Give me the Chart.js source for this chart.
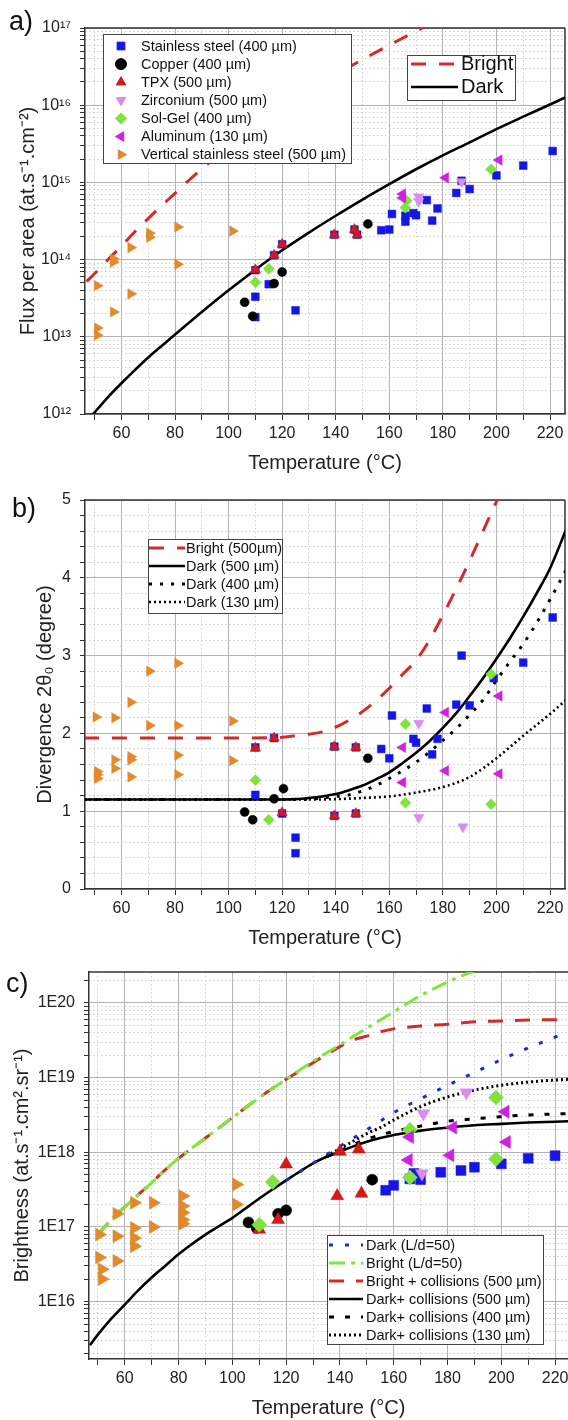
<!DOCTYPE html>
<html>
<head>
<meta charset="utf-8">
<title>Flux, divergence and brightness vs temperature</title>
<script src="https://cdn.jsdelivr.net/npm/chart.js@4.4.1/dist/chart.umd.min.js"></script>
<style>
  html, body { margin: 0; padding: 0; background: #fff; }
  body { position: relative; width: 568px; height: 1420px; overflow: hidden; }
  canvas { position: absolute; left: 0; }
  #fluxChart { top: 0; }
  #divChart { top: 475px; }
  #briChart { top: 950px; }
</style>
</head>
<body>
<canvas id="fluxChart" width="568" height="475"></canvas>
<canvas id="divChart" width="568" height="475"></canvas>
<canvas id="briChart" width="568" height="470"></canvas>
<script>
// ---- shared ticks ----
var tempTicks = [50, 60, 70, 80, 90, 100, 110, 120, 130, 140, 150, 160, 170, 180, 190, 200, 210, 220];
var tempMinorGrid = [50, 70, 90, 110, 130, 150, 170, 190, 210];
var fluxDecades = [1e12, 1e13, 1e14, 1e15, 1e16, 1e17];
var divMajor = [0, 1, 2, 3, 4, 5];
var divMinor = [0.2, 0.4, 0.6, 0.8, 1.2, 1.4, 1.6, 1.8, 2.2, 2.4, 2.6, 2.8, 3.2, 3.4, 3.6, 3.8, 4.2, 4.4, 4.6, 4.8];
var briDecades = [1e15, 1e16, 1e17, 1e18, 1e19, 1e20];

// ---- a) flux per area ----
var fluxSteelT = [110, 110, 110, 115, 117, 120, 125, 139.5, 147, 148, 157, 160, 161, 166, 166, 169, 170, 174, 176, 178, 185, 187, 190, 200, 210, 221];
var fluxSteel = [3.3e13, 1.8e13, 7.3e13, 4.8e13, 1.14e14, 1.58e14, 2.2e13, 2.1e14, 2.45e14, 2.1e14, 2.4e14, 2.45e14, 3.9e14, 3.7e14, 3.1e14, 4.0e14, 3.75e14, 5.9e14, 3.2e14, 4.6e14, 7.3e14, 1.05e15, 8.2e14, 1.23e15, 1.65e15, 2.55e15];
var fluxCopperT = [106, 109, 117, 120, 152];
var fluxCopper = [2.8e13, 1.85e13, 4.9e13, 6.9e13, 2.9e14];
var fluxTpxT = [110, 117, 120, 139.5, 147, 148];
var fluxTpx = [7.4e13, 1.14e14, 1.58e14, 2.1e14, 2.45e14, 2.1e14];
var fluxZrT = [171, 171, 187];
var fluxZr = [6.5e14, 5.7e14, 1.02e15];
var fluxSolGelT = [110, 115, 166, 166.5, 198];
var fluxSolGel = [5.1e13, 7.6e13, 4.7e14, 5.8e14, 1.48e15];
var fluxAlT = [165, 165, 181, 201];
var fluxAl = [7.1e14, 6.3e14, 1.15e15, 1.95e15];
var fluxVertT = [51, 51, 51, 57, 57, 57, 63.5, 63.5, 70.5, 70.5, 81, 81, 101.5];
var fluxVert = [4.6e13, 1.3e13, 1.05e13, 9.3e13, 1.02e14, 2.1e13, 1.43e14, 3.6e13, 2.2e14, 1.95e14, 2.65e14, 8.7e13, 2.35e14];
var fluxBrightT = [47, 50, 55, 60, 65, 70, 75, 80, 85, 90, 100, 110, 120, 130, 140, 150, 160, 170, 175];
var fluxBright = [5.2e13, 6.6e13, 1.0e14, 1.5e14, 2.3e14, 3.4e14, 5.0e14, 7.2e14, 1.05e15, 1.5e15, 2.9e15, 5.4e15, 9.5e15, 1.6e16, 2.5e16, 3.9e16, 6.0e16, 9.1e16, 1.12e17];
var fluxDarkT = [47, 50, 55, 60, 65, 70, 75, 80, 90, 100, 110, 120, 130, 140, 150, 160, 170, 180, 190, 200, 210, 220, 227];
var fluxDark = [7.9e11, 1.05e12, 1.66e12, 2.5e12, 3.7e12, 5.4e12, 7.6e12, 1.07e13, 2.1e13, 4.0e13, 7.4e13, 1.32e14, 2.24e14, 3.7e14, 6.0e14, 9.5e14, 1.48e15, 2.24e15, 3.3e15, 4.9e15, 7.1e15, 1.02e16, 1.32e16];

// ---- b) divergence ----
var divSteelT = [110, 110, 117, 120, 125, 125, 139.5, 139.5, 147.5, 147.5, 157, 160, 161, 169, 170, 174, 176, 178, 185, 187, 190, 199, 210, 221];
var divSteel = [1.21, 1.82, 1.94, 0.97, 0.66, 0.46, 0.94, 1.83, 0.97, 1.82, 1.80, 1.68, 2.23, 1.93, 1.88, 2.32, 1.73, 1.93, 2.37, 3.0, 2.36, 2.71, 2.91, 3.49];
var divCopperT = [106, 109, 117, 120.5, 152];
var divCopper = [0.99, 0.89, 1.16, 1.29, 1.68];
var divTpxT = [110, 117, 120, 139.5, 139.5, 147.5, 147.5];
var divTpx = [1.81, 1.94, 0.98, 0.94, 1.83, 0.97, 1.82];
var divZrT = [171, 171, 187.5];
var divZr = [2.13, 0.92, 0.80];
var divSolGelT = [110, 115, 166, 166, 198, 198];
var divSolGel = [1.40, 0.89, 2.12, 1.11, 1.09, 2.76];
var divAlT = [165, 165, 181, 181, 201, 201];
var divAl = [1.82, 1.37, 2.27, 1.52, 2.48, 1.48];
var divVertT = [50.5, 51, 51, 51, 57.5, 57.5, 57.5, 63.5, 63.5, 63.5, 63.5, 70.5, 70.5, 81, 81, 81, 81, 101.5, 101.5];
var divVert = [2.21, 1.51, 1.47, 1.42, 2.20, 1.66, 1.55, 2.40, 1.70, 1.66, 1.44, 2.80, 2.10, 2.90, 2.10, 1.72, 1.47, 2.16, 1.65];
var divBrightT = [46, 100, 120, 125, 130, 135, 140, 145, 150, 155, 160, 165, 170, 175, 180, 185, 190, 195, 200, 203];
var divBright = [1.94, 1.94, 1.95, 1.97, 1.99, 2.02, 2.08, 2.17, 2.28, 2.42, 2.58, 2.76, 2.94, 3.2, 3.52, 3.86, 4.22, 4.6, 4.98, 5.2];
var divDark500T = [46, 120, 125, 130, 135, 140, 145, 150, 155, 160, 165, 170, 175, 180, 185, 190, 195, 200, 205, 210, 215, 220, 226];
var divDark500 = [1.15, 1.15, 1.155, 1.17, 1.19, 1.22, 1.27, 1.33, 1.41, 1.50, 1.62, 1.75, 1.90, 2.07, 2.26, 2.48, 2.71, 2.96, 3.22, 3.50, 3.80, 4.12, 4.62];
var divDark400T = [46, 125, 130, 135, 140, 145, 150, 155, 160, 165, 170, 175, 180, 185, 190, 195, 200, 205, 210, 215, 220, 226];
var divDark400 = [1.15, 1.15, 1.155, 1.17, 1.19, 1.21, 1.26, 1.33, 1.42, 1.52, 1.63, 1.76, 1.91, 2.06, 2.24, 2.43, 2.68, 2.92, 3.15, 3.42, 3.72, 4.1];
var divDark130T = [46, 130, 140, 150, 160, 170, 180, 190, 200, 210, 220, 226];
var divDark130 = [1.15, 1.15, 1.155, 1.17, 1.19, 1.24, 1.31, 1.44, 1.68, 1.97, 2.25, 2.43];

// ---- c) brightness ----
var briSteelT = [157, 160, 166, 167.5, 170, 177.5, 185, 190, 200, 210, 220];
var briSteel = [3.1e17, 3.6e17, 4.4e17, 5.2e17, 4.3e17, 5.4e17, 5.7e17, 6.3e17, 7.0e17, 8.3e17, 9.0e17];
var briCopperT = [106, 109, 117, 120, 152];
var briCopper = [1.15e17, 0.97e17, 1.5e17, 1.67e17, 4.3e17];
var briTpxT = [110, 117, 120, 139, 140, 147, 148];
var briTpx = [9.2e16, 1.25e17, 6.9e17, 2.6e17, 1.02e18, 1.1e18, 2.8e17];
var briZrT = [170.5, 171, 187];
var briZr = [5.2e17, 3.3e18, 6.3e18];
var briSolGelT = [110, 115, 166, 166, 198, 198];
var briSolGel = [1.07e17, 4.0e17, 2.0e18, 4.6e17, 5.4e18, 8.1e17];
var briAlT = [165.5, 166, 181, 182, 201.5, 202];
var briAl = [7.9e17, 1.6e18, 9.1e17, 2.15e18, 3.5e18, 1.37e18];
var briVertT = [50.5, 50.5, 51.5, 51.5, 57, 57, 57, 63.5, 63.5, 63.5, 63.5, 70.5, 70.5, 81.5, 81.5, 81.5, 81.5, 81.5, 101.5, 101.5];
var briVert = [7.9e16, 3.9e16, 2.7e16, 2.0e16, 1.5e17, 7.5e16, 3.5e16, 2.1e17, 9.7e16, 7.1e16, 5.5e16, 2.1e17, 1.0e17, 2.6e17, 1.9e17, 1.55e17, 1.25e17, 1.1e17, 3.7e17, 2.0e17];
var briDarkLdT = [120, 130, 135, 140, 145, 150, 155, 160, 170, 180, 190, 200, 210, 220, 225];
var briDarkLd = [4.2e17, 7.1e17, 9.3e17, 1.2e18, 1.55e18, 2.0e18, 2.6e18, 3.4e18, 5.2e18, 7.9e18, 1.17e19, 1.74e19, 2.5e19, 3.5e19, 4.2e19];
var briBrightLdT = [50, 55, 60, 65, 70, 75, 80, 90, 100, 110, 120, 130, 140, 150, 160, 170, 180, 190, 194];
var briBrightLd = [7.9e16, 1.26e17, 1.86e17, 2.7e17, 3.9e17, 5.8e17, 8.3e17, 1.55e18, 2.9e18, 5.4e18, 9.5e18, 1.66e19, 2.75e19, 4.6e19, 7.6e19, 1.26e20, 1.9e20, 2.7e20, 3.0e20];
var briBrightCollT = [50, 55, 60, 65, 70, 75, 80, 90, 100, 110, 120, 130, 135, 140, 145, 150, 155, 160, 170, 180, 190, 200, 210, 225];
var briBrightColl = [7.9e16, 1.26e17, 1.86e17, 2.7e17, 3.9e17, 5.8e17, 8.3e17, 1.55e18, 2.9e18, 5.4e18, 9.5e18, 1.58e19, 2.04e19, 2.6e19, 3.2e19, 3.6e19, 4.1e19, 4.5e19, 4.9e19, 5.2e19, 5.6e19, 5.75e19, 5.9e19, 6.0e19];
var briDark500T = [47, 50, 55, 60, 65, 70, 75, 80, 85, 90, 95, 100, 105, 110, 115, 120, 125, 130, 135, 140, 145, 150, 155, 160, 170, 180, 190, 200, 210, 225];
var briDark500 = [2.6e15, 3.6e15, 5.9e15, 9.1e15, 1.41e16, 2.1e16, 3.0e16, 4.3e16, 5.9e16, 7.9e16, 1.02e17, 1.32e17, 1.78e17, 2.4e17, 3.2e17, 4.2e17, 5.5e17, 7.1e17, 8.7e17, 1.02e18, 1.2e18, 1.38e18, 1.55e18, 1.7e18, 1.95e18, 2.14e18, 2.3e18, 2.4e18, 2.5e18, 2.6e18];
var briDark400T = [135, 140, 150, 160, 170, 180, 190, 200, 210, 225];
var briDark400 = [8.7e17, 1.05e18, 1.5e18, 1.9e18, 2.24e18, 2.6e18, 2.8e18, 3.0e18, 3.16e18, 3.3e18];
var briDark130T = [135, 140, 145, 150, 155, 160, 170, 180, 190, 200, 210, 220, 225];
var briDark130 = [8.9e17, 1.12e18, 1.41e18, 1.78e18, 2.14e18, 2.7e18, 4.1e18, 5.5e18, 6.8e18, 7.9e18, 8.7e18, 9.3e18, 9.5e18];

// ---- styling ----
var FONT = '"Liberation Sans", Arial, Helvetica, sans-serif';
Chart.defaults.font.family = FONT;
Chart.defaults.color = '#222';
var AXIS = '#333', GRID = '#b3b3b3', MINOR = '#cdcdcd', NONE = 'rgba(0,0,0,0)';
var C_STEEL = '#1616e4', C_COPPER = '#000000', C_TPX = '#d21a1a', C_ZR = '#da8df0',
    C_SOLGEL = '#80e23c', C_AL = '#cf22df', C_VERT = '#e2892c';
var C_RED = '#d42a2a', C_GREEN = '#7ee83a', C_BLUE = '#1b2dd0';

function pairs(xs, ys) {
  return xs.map(function (x, i) { return {x: x, y: ys[i]}; });
}

function marks(label, xs, ys, style, rot, color, r, order) {
  return {
    label: label, data: pairs(xs, ys), showLine: false,
    pointStyle: style, pointRotation: rot, pointRadius: r, pointHoverRadius: r,
    pointBackgroundColor: color, pointBorderColor: color, pointBorderWidth: 0.5, order: order
  };
}

function curve(label, xs, ys, color, width, dash, order) {
  return {
    label: label, data: pairs(xs, ys), showLine: true, fill: false,
    borderColor: color, borderWidth: width, borderDash: dash, borderCapStyle: 'butt',
    pointRadius: 0, pointHoverRadius: 0, cubicInterpolationMode: 'monotone', order: order || 10
  };
}

var SUP = {'0': '⁰', '1': '¹', '2': '²', '3': '³', '4': '⁴', '5': '⁵', '6': '⁶', '7': '⁷', '8': '⁸', '9': '⁹', '-': '⁻'};
function powTen(v) {
  return '10' + String(Math.round(Math.log10(v))).split('').map(function (c) { return SUP[c]; }).join('');
}
function eLabel(v) { return '1E' + Math.round(Math.log10(v)); }

function noPad(s) { s.paddingLeft = 0; s.paddingRight = 0; s.paddingTop = 0; s.paddingBottom = 0; }

function tempAxes(min, max) {
  return {
    x: {
      type: 'linear', position: 'bottom', min: min, max: max,
      afterBuildTicks: function (s) { s.ticks = tempTicks.map(function (v) { return {value: v}; }); },
      afterFit: function (s) { s.height = 61; noPad(s); },
      ticks: {autoSkip: false, maxRotation: 0, padding: 4, color: '#222', font: {size: 16},
        callback: function (v) { return v % 20 === 0 ? String(v) : ''; }},
      grid: {color: function (c) { return c.tick && c.tick.value % 20 === 0 ? GRID : NONE; },
        tickColor: AXIS, tickLength: 6, lineWidth: 1},
      border: {color: AXIS, width: 1.5},
      title: {display: true, text: 'Temperature (°C)', color: '#222', font: {size: 20}, padding: 0}
    },
    xMinor: {
      type: 'linear', position: 'bottom', min: min, max: max, weight: -1,
      afterBuildTicks: function (s) { s.ticks = tempMinorGrid.map(function (v) { return {value: v}; }); },
      afterFit: function (s) { s.height = 0; noPad(s); },
      ticks: {display: false},
      grid: {color: MINOR, drawTicks: false, lineWidth: 1},
      border: {display: false, dash: [1.5, 2.5]}
    }
  };
}

function valueAxes(type, min, max, major, minor, fmt, title, width, titlePad) {
  var majorSet = new Set(major);
  var all = major.concat(minor).filter(function (v) { return v >= min && v <= max; })
    .sort(function (a, b) { return a - b; });
  var minorIn = minor.filter(function (v) { return v > min && v < max; });
  return {
    y: {
      type: type, position: 'left', min: min, max: max,
      afterBuildTicks: function (s) { s.ticks = all.map(function (v) { return {value: v}; }); },
      afterFit: function (s) { s.width = width; noPad(s); },
      ticks: {autoSkip: false, padding: 9, color: '#222', font: {size: 16},
        callback: function (v) { return majorSet.has(v) ? fmt(v) : ''; }},
      grid: {color: function (c) { return c.tick && majorSet.has(c.tick.value) ? GRID : NONE; },
        tickColor: AXIS, tickLength: 5, lineWidth: 1},
      border: {color: AXIS, width: 1.5},
      title: {display: true, text: title, color: '#222', font: {size: 20}, padding: {top: titlePad, bottom: 0}}
    },
    yMinor: {
      type: type, position: 'left', min: min, max: max, weight: -1,
      afterBuildTicks: function (s) { s.ticks = minorIn.map(function (v) { return {value: v}; }); },
      afterFit: function (s) { s.width = 0; noPad(s); },
      ticks: {display: false},
      grid: {color: MINOR, drawTicks: false, lineWidth: 1},
      border: {display: false, dash: [1.5, 2.5]}
    }
  };
}

function logMinors(decades) {
  var out = [];
  decades.forEach(function (d) { [2, 3, 4, 5, 6, 7, 8, 9].forEach(function (m) { out.push(m * d); }); });
  return out;
}

// ---- small plugins: panel tag, top/right frame, boxed legends ----
function panelTag(text, x, y) {
  return {id: 'panelTag', afterDraw: function (chart) {
    var ctx = chart.ctx;
    ctx.save();
    ctx.font = '27px ' + FONT; ctx.fillStyle = '#111'; ctx.textBaseline = 'middle';
    ctx.fillText(text, x, y);
    ctx.restore();
  }};
}

function frame(withRight) {
  return {id: 'frame', beforeDatasetsDraw: function (chart) {
    var a = chart.chartArea, ctx = chart.ctx;
    ctx.save();
    ctx.strokeStyle = AXIS; ctx.lineWidth = 1.5;
    ctx.beginPath();
    ctx.moveTo(a.left, a.top); ctx.lineTo(a.right, a.top);
    if (withRight) { ctx.moveTo(a.right, a.top); ctx.lineTo(a.right, a.bottom); }
    ctx.stroke();
    ctx.restore();
  }};
}

function drawMark(ctx, ds, r, x, y) {
  ctx.fillStyle = ds.pointBackgroundColor; ctx.strokeStyle = ds.pointBorderColor;
  if (Chart.helpers && Chart.helpers.drawPoint) {
    Chart.helpers.drawPoint(ctx, {pointStyle: ds.pointStyle, rotation: ds.pointRotation || 0, radius: r, borderWidth: 0.5}, x, y);
  } else {
    ctx.beginPath(); ctx.arc(x, y, r, 0, Math.PI * 2); ctx.fill();
  }
}

function boxLegend(boxes) {
  return {id: 'boxLegend', afterDatasetsDraw: function (chart) {
    var ctx = chart.ctx;
    boxes.forEach(function (b) {
      ctx.save();
      ctx.fillStyle = '#fff'; ctx.fillRect(b.x, b.y, b.w, b.h);
      ctx.strokeStyle = '#444'; ctx.lineWidth = 1; ctx.strokeRect(b.x + 0.5, b.y + 0.5, b.w, b.h);
      ctx.font = b.size + 'px ' + FONT; ctx.textBaseline = 'middle'; ctx.textAlign = 'left';
      b.items.forEach(function (idx, i) {
        var ds = chart.data.datasets[idx];
        var y = b.first + i * b.step;
        if (ds.showLine) {
          ctx.strokeStyle = ds.borderColor; ctx.lineWidth = ds.borderWidth;
          ctx.setLineDash(ds.borderDash || []);
          ctx.beginPath(); ctx.moveTo(b.lineX, y); ctx.lineTo(b.lineX + b.lineW, y); ctx.stroke();
          ctx.setLineDash([]);
        } else {
          drawMark(ctx, ds, b.mark, b.markX, y);
        }
        ctx.fillStyle = '#111';
        ctx.fillText(ds.label, b.textX, y + 0.5);
      });
      ctx.restore();
    });
  }};
}

function baseOptions(scales, padding) {
  return {
    responsive: false, animation: false, devicePixelRatio: 1, events: [],
    layout: {padding: padding, autoPadding: false},
    scales: scales,
    plugins: {legend: {display: false}, tooltip: {enabled: false}}
  };
}

function merge(a, b) { var o = {}; Object.keys(a).forEach(function (k) { o[k] = a[k]; }); Object.keys(b).forEach(function (k) { o[k] = b[k]; }); return o; }

// ---- a) ----
var fluxScales = merge(tempAxes(46.4, 225.6),
  valueAxes('logarithmic', 1e12, 1e17, fluxDecades, logMinors(fluxDecades), powTen,
    'Flux per area (at.s⁻¹.cm⁻²)', 85, 16.6));
new Chart(document.getElementById('fluxChart'), {
  type: 'scatter',
  data: {datasets: [
    marks('Stainless steel (400 µm)', fluxSteelT, fluxSteel, 'rect', 0, C_STEEL, 5.5, 7),
    marks('Copper (400 µm)', fluxCopperT, fluxCopper, 'circle', 0, C_COPPER, 4.5, 6),
    marks('TPX (500 µm)', fluxTpxT, fluxTpx, 'triangle', 0, C_TPX, 6, 5),
    marks('Zirconium (500 µm)', fluxZrT, fluxZr, 'triangle', 180, C_ZR, 6, 4),
    marks('Sol-Gel (400 µm)', fluxSolGelT, fluxSolGel, 'rectRot', 0, C_SOLGEL, 5.5, 3),
    marks('Aluminum (130 µm)', fluxAlT, fluxAl, 'triangle', 270, C_AL, 6, 2),
    marks('Vertical stainless steel (500 µm)', fluxVertT, fluxVert, 'triangle', 90, C_VERT, 6, 1),
    curve('Bright', fluxBrightT, fluxBright, C_RED, 3, [15, 13]),
    curve('Dark', fluxDarkT, fluxDark, '#000', 2.6, [])
  ]},
  options: baseOptions(fluxScales, {top: 28, right: 3, left: 0, bottom: 0}),
  plugins: [frame(true), panelTag('a)', 9, 23), boxLegend([
    {x: 103, y: 34, w: 248, h: 129, size: 14.5, first: 46, step: 18.1, markX: 121, mark: 5.5, textX: 141,
      items: [0, 1, 2, 3, 4, 5, 6]},
    {x: 407, y: 55, w: 108, h: 45, size: 20, first: 64, step: 23, lineX: 411, lineW: 47, textX: 461,
      items: [7, 8]}
  ])]
});

// ---- b) ----
var divScales = merge(tempAxes(46.4, 225.6),
  valueAxes('linear', 0, 5, divMajor, divMinor, function (v) { return String(v); },
    'Divergence 2θ₀ (degree)', 85, 33));
new Chart(document.getElementById('divChart'), {
  type: 'scatter',
  data: {datasets: [
    curve('Bright (500µm)', divBrightT, divBright, C_RED, 3, [15, 13]),
    curve('Dark (500 µm)', divDark500T, divDark500, '#000', 2.6, []),
    curve('Dark (400 µm)', divDark400T, divDark400, '#000', 3, [3, 8]),
    curve('Dark (130 µm)', divDark130T, divDark130, '#000', 2.6, [2, 3]),
    marks('Stainless steel (400 µm)', divSteelT, divSteel, 'rect', 0, C_STEEL, 5.5, 7),
    marks('Copper (400 µm)', divCopperT, divCopper, 'circle', 0, C_COPPER, 4.5, 6),
    marks('TPX (500 µm)', divTpxT, divTpx, 'triangle', 0, C_TPX, 6, 5),
    marks('Zirconium (500 µm)', divZrT, divZr, 'triangle', 180, C_ZR, 6, 4),
    marks('Sol-Gel (400 µm)', divSolGelT, divSolGel, 'rectRot', 0, C_SOLGEL, 5.5, 3),
    marks('Aluminum (130 µm)', divAlT, divAl, 'triangle', 270, C_AL, 6, 2),
    marks('Vertical stainless steel (500 µm)', divVertT, divVert, 'triangle', 90, C_VERT, 6, 1)
  ]},
  options: baseOptions(divScales, {top: 25, right: 3, left: 0, bottom: 0}),
  plugins: [frame(true), panelTag('b)', 12, 35), boxLegend([
    {x: 148, y: 64, w: 134, h: 74, size: 14.5, first: 73, step: 18, lineX: 149, lineW: 36, textX: 186,
      items: [0, 1, 2, 3]}
  ])]
});

// ---- c) ----
var briScales = merge(tempAxes(46.7, 224.8),
  valueAxes('logarithmic', 1.7e15, 2.6e20, briDecades, logMinors(briDecades), eLabel,
    'Brightness (at.s⁻¹.cm².sr⁻¹)', 89, 10.6));
new Chart(document.getElementById('briChart'), {
  type: 'scatter',
  data: {datasets: [
    curve('Dark (L/d=50)', briDarkLdT, briDarkLd, C_BLUE, 3, [4, 12]),
    curve('Bright (L/d=50)', briBrightLdT, briBrightLd, C_GREEN, 3, [16, 6, 4, 6]),
    curve('Bright + collisions (500 µm)', briBrightCollT, briBrightColl, C_RED, 3, [15, 12]),
    curve('Dark+ collisions (500 µm)', briDark500T, briDark500, '#000', 2.6, []),
    curve('Dark+ collisions (400 µm)', briDark400T, briDark400, '#000', 3, [5, 11]),
    curve('Dark+ collisions (130 µm)', briDark130T, briDark130, '#000', 3, [2, 3]),
    marks('Stainless steel (400 µm)', briSteelT, briSteel, 'rect', 0, C_STEEL, 7, 7),
    marks('Copper (400 µm)', briCopperT, briCopper, 'circle', 0, C_COPPER, 5.5, 6),
    marks('TPX (500 µm)', briTpxT, briTpx, 'triangle', 0, C_TPX, 7.5, 5),
    marks('Zirconium (500 µm)', briZrT, briZr, 'triangle', 180, C_ZR, 7.5, 4),
    marks('Sol-Gel (400 µm)', briSolGelT, briSolGel, 'rectRot', 0, C_SOLGEL, 7.5, 3),
    marks('Aluminum (130 µm)', briAlT, briAl, 'triangle', 270, C_AL, 7.5, 2),
    marks('Vertical stainless steel (500 µm)', briVertT, briVert, 'triangle', 90, C_VERT, 7.5, 1)
  ]},
  options: baseOptions(briScales, {top: 22, right: 0, left: 0, bottom: 0}),
  plugins: [frame(false), panelTag('c)', 6, 35), boxLegend([
    {x: 327, y: 285, w: 216, h: 109, size: 14.5, first: 295, step: 18, lineX: 329, lineW: 34, textX: 366,
      items: [0, 1, 2, 3, 4, 5]}
  ])]
});
</script>
</body>
</html>
